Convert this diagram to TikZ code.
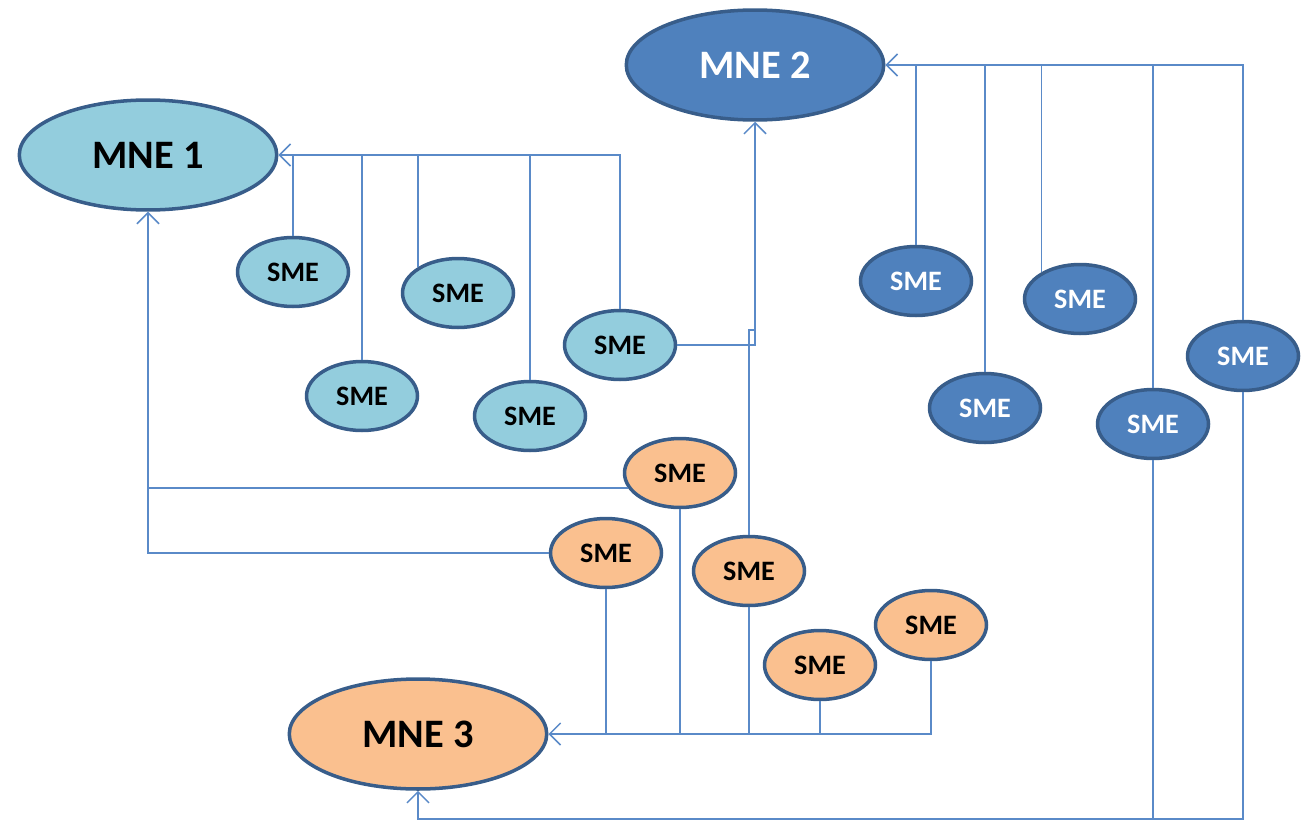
\documentclass[tikz,border=0pt]{standalone}
\usepackage{fontspec}
\setmainfont{Carlito}
\usetikzlibrary{shapes.geometric,arrows.meta}

\definecolor{claro}{HTML}{93CDDD}
\definecolor{oscuro}{HTML}{4F81BD}
\definecolor{naranja}{HTML}{FAC08F}
\definecolor{borde}{HTML}{385D8A}
\definecolor{linea}{HTML}{5A8AC8}

\begin{document}
\begin{tikzpicture}[
        x=0.02cm, y=-0.02cm,
        every node/.style={font=\bfseries},
        mne/.style={ellipse, draw=borde, line width=2pt, inner sep=0pt, minimum width=5.15cm, minimum height=2.2cm, font=\fontsize{23}{26}\bfseries\selectfont},
        sme/.style={ellipse, draw=borde, line width=2pt, inner sep=0pt, minimum width=2.22cm, minimum height=1.38cm, font=\fontsize{16}{18}\bfseries\selectfont},
        enlace/.style={draw=linea, line width=0.9pt},
        flecha/.style={enlace, -{Straight Barb[length=2.2mm, width=4.4mm, line width=0.9pt]}}
    ]
    \useasboundingbox (0,0) rectangle (1304,821);

    % MNE
    \node[mne, fill=claro] (mne1) at (148,155) {MNE 1};
    \node[mne, fill=oscuro, text=white] (mne2) at (755,65) {MNE 2};
    \node[mne, fill=naranja] (mne3) at (418,734) {MNE 3};

    % SME de MNE 1
    \node[sme, fill=claro] (l1) at (293,272) {SME};
    \node[sme, fill=claro] (l2) at (458,293) {SME};
    \node[sme, fill=claro] (l3) at (362,396) {SME};
    \node[sme, fill=claro] (l4) at (530,416) {SME};
    \node[sme, fill=claro] (l5) at (620,345) {SME};

    % SME de MNE 2
    \node[sme, fill=oscuro, text=white] (d1) at (916,281) {SME};
    \node[sme, fill=oscuro, text=white] (d2) at (1080,299) {SME};
    \node[sme, fill=oscuro, text=white] (d3) at (985,408) {SME};
    \node[sme, fill=oscuro, text=white] (d4) at (1153,424) {SME};
    \node[sme, fill=oscuro, text=white] (d5) at (1243,356) {SME};

    % SME de MNE 3
    \node[sme, fill=naranja] (o1) at (680,473) {SME};
    \node[sme, fill=naranja] (o2) at (606,553) {SME};
    \node[sme, fill=naranja] (o3) at (749,571) {SME};
    \node[sme, fill=naranja] (o4) at (931,625) {SME};
    \node[sme, fill=naranja] (o5) at (820,665) {SME};

    \coordinate (quiebre) at (755,330);
    \coordinate (fondo) at (418,819);

    % Aristas hacia MNE 1
    \draw[flecha] (l5.north) |- (mne1.east);
    \draw[enlace] (l1.north) -- (l1.north |- mne1.east);
    \draw[enlace] (l2.147) -- (l2.147 |- mne1.east);
    \draw[enlace] (l3.north) -- (l3.north |- mne1.east);
    \draw[enlace] (l4.north) -- (l4.north |- mne1.east);
    \draw[flecha] (o2.west) -| (mne1.south);
    \draw[enlace] (o1.196) -- (o1.196 -| mne1.south);

    % Aristas hacia MNE 2
    \draw[flecha] (d5.north) |- (mne2.east);
    \draw[enlace] (d1.north) -- (d1.north |- mne2.east);
    \draw[enlace] (d2.145) -- (d2.145 |- mne2.east);
    \draw[enlace] (d3.north) -- (d3.north |- mne2.east);
    \draw[enlace] (d4.north) -- (d4.north |- mne2.east);
    \draw[flecha] (l5.east) -| (mne2.south);
    \draw[enlace] (o3.north) |- (quiebre);

    % Aristas hacia MNE 3
    \draw[flecha] (o4.south) |- (mne3.east);
    \draw[enlace] (o1.south) -- (o1.south |- mne3.east);
    \draw[enlace] (o2.south) -- (o2.south |- mne3.east);
    \draw[enlace] (o3.south) -- (o3.south |- mne3.east);
    \draw[enlace] (o5.south) -- (o5.south |- mne3.east);
    \draw[flecha] (d5.south) |- (fondo) -- (mne3.south);
    \draw[enlace] (d4.south) -- (d4.south |- fondo);
\end{tikzpicture}
\end{document}
